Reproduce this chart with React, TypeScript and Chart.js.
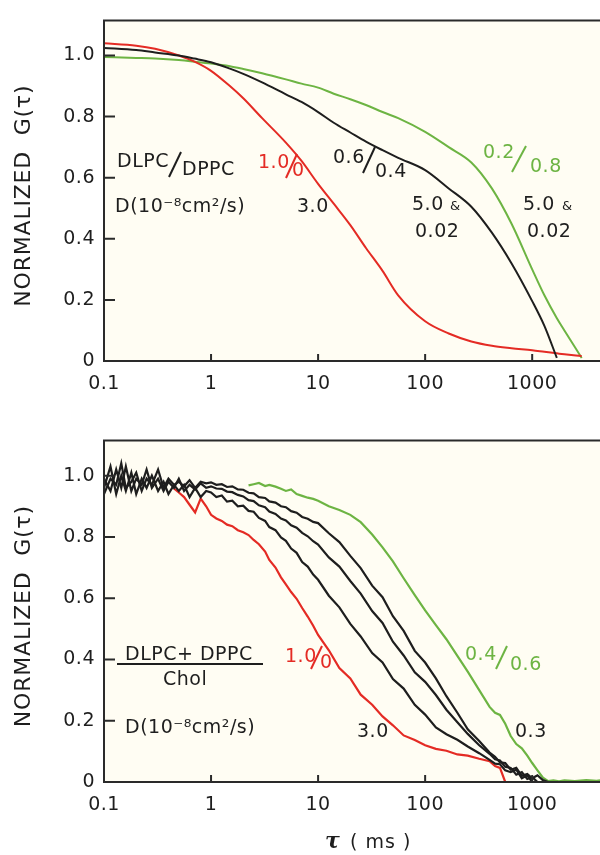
import React, { useEffect, useRef } from 'react';
import { Chart, registerables } from 'chart.js';
Chart.register(...registerables);

const INK = '#1e1e1e';
const RED = '#e42b24';
const GREEN = '#6db443';
const FONT = '"DejaVu Sans"';

const X_TICKS = [0.1, 1, 10, 100, 1000];
const Y_TICKS = [0, 0.2, 0.4, 0.6, 0.8, 1.0];
const X_MIN = 0.1;
const X_MAX = 4300;
const Y_MAX = 1.115;

// ---- top panel: DLPC/DPPC fits ----
const tauTop = [0.1, 0.2, 0.3, 0.5, 0.7, 1, 1.5, 2, 3, 5, 7, 10, 14, 20, 28, 40, 56, 100, 166, 270, 420, 640, 1000, 1300, 1700, 2000, 2900];
const topRed = [1.04, 1.032, 1.022, 1.0, 0.98, 0.95, 0.9, 0.86, 0.795, 0.715, 0.655, 0.58, 0.515, 0.445, 0.37, 0.295, 0.215, 0.13, 0.09, 0.064, 0.05, 0.042, 0.035, 0.03, 0.025, 0.022, 0.016];
const topBlack = [1.025, 1.018, 1.01, 1.0, 0.99, 0.978, 0.957, 0.94, 0.912, 0.873, 0.848, 0.815, 0.78, 0.748, 0.718, 0.69, 0.665, 0.625, 0.565, 0.505, 0.42, 0.32, 0.196, 0.115, 0.01, null, null];
const topGreen = [0.995, 0.992, 0.99, 0.985, 0.98, 0.974, 0.965, 0.956, 0.942, 0.922, 0.908, 0.895, 0.875, 0.857, 0.838, 0.815, 0.795, 0.75, 0.7, 0.65, 0.565, 0.45, 0.3, 0.215, 0.14, 0.1, 0.01];

// ---- bottom panel: (DLPC+DPPC)/Chol data ----
const tauBot = [
  0.1, 0.115, 0.13, 0.145, 0.16, 0.18, 0.2, 0.225, 0.25, 0.28, 0.32, 0.36, 0.4, 0.45, 0.5, 0.56, 0.63, 0.71, 0.8, 0.9,
  1, 1.12, 1.26, 1.41, 1.58, 1.78, 2, 2.24, 2.5, 2.8, 3.2, 3.5, 4, 4.5, 5, 5.6, 6.3, 7.1, 8, 9,
  10, 12.6, 15.8, 20, 25, 32, 40, 50, 63, 80,
  100, 126, 158, 200, 250, 320, 400, 450, 500, 560, 630, 710, 800, 900,
  1000, 1120, 1260, 1410, 1580, 1780, 2000, 2500, 3200, 4000, 4300,
];
const botBlack1 = [
  0.96, 1.03, 0.94, 1.0, 0.95, 1.01, 0.94, 0.99, 0.96, 1.0, 0.95, 0.98, 0.94, 0.97, 0.95, 0.97, 0.93, 0.96, 0.93, 0.95,
  0.945, 0.93, 0.935, 0.915, 0.918, 0.9, 0.902, 0.885, 0.882, 0.862, 0.852, 0.832, 0.822, 0.798, 0.787, 0.762, 0.748, 0.718, 0.703, 0.677,
  0.66, 0.608, 0.57, 0.516, 0.475, 0.421, 0.39, 0.336, 0.305, 0.252,
  0.22, 0.178, 0.156, 0.138, 0.116, 0.094, 0.072, 0.06, 0.058, 0.038, 0.032, 0.04, 0.012, 0.022,
  0.0, null, null, null, null, null, null, null, null, null, null,
];
const botBlack2 = [
  0.99, 0.95, 1.02, 0.96, 1.03, 0.95, 0.99, 0.97, 1.02, 0.96, 0.99, 0.95, 0.98, 0.96, 0.99, 0.95, 0.97, 0.955, 0.975, 0.96,
  0.965, 0.958, 0.957, 0.948, 0.946, 0.937, 0.932, 0.92, 0.917, 0.903, 0.897, 0.883, 0.875, 0.86, 0.854, 0.838, 0.83, 0.813, 0.802, 0.786,
  0.775, 0.733, 0.703, 0.656, 0.615, 0.558, 0.519, 0.458, 0.413, 0.358,
  0.327, 0.284, 0.236, 0.195, 0.157, 0.12, 0.092, 0.074, 0.07, 0.05, 0.046, 0.024, 0.032, 0.01,
  0.016, 0.0, null, null, null, null, null, null, null, null, null,
];
const botBlack3 = [
  0.94, 0.99, 0.97, 1.04, 0.96, 0.98, 1.01, 0.95, 0.99, 0.97, 1.02, 0.96, 0.99, 0.97, 0.98, 0.965, 0.985, 0.96, 0.98, 0.975,
  0.978, 0.97, 0.972, 0.963, 0.965, 0.955, 0.954, 0.944, 0.942, 0.93, 0.927, 0.916, 0.912, 0.9, 0.897, 0.884, 0.879, 0.865, 0.859, 0.849,
  0.845, 0.812, 0.783, 0.738, 0.698, 0.641, 0.603, 0.541, 0.493, 0.428,
  0.39, 0.338, 0.28, 0.226, 0.172, 0.134, 0.096, 0.082, 0.064, 0.062, 0.04, 0.046, 0.02, 0.026,
  0.012, 0.022, 0.006, 0.0, null, null, null, null, null, null, null,
];
const botRed = [
  null, null, null, null, null, null, null, null, null, null, null, null, null, 0.958, 0.945, 0.93, 0.905, 0.88, 0.925, 0.9,
  0.872, 0.86, 0.852, 0.84, 0.835, 0.822, 0.815, 0.806, 0.79, 0.776, 0.752, 0.725, 0.7, 0.668, 0.645, 0.62, 0.598, 0.568, 0.54, 0.51,
  0.48, 0.43, 0.372, 0.338, 0.285, 0.252, 0.214, 0.185, 0.152, 0.137,
  0.12, 0.108, 0.102, 0.09, 0.086, 0.076, 0.068, 0.052, 0.046, 0.0, null, null, null, null,
  null, null, null, null, null, null, null, null, null, null, null,
];
const botGreen = [
  null, null, null, null, null, null, null, null, null, null, null, null, null, null, null, null, null, null, null, null,
  null, null, null, null, null, null, null, 0.968, 0.972, 0.976, 0.966, 0.97, 0.964, 0.957, 0.95, 0.955, 0.94, 0.934, 0.928, 0.924,
  0.918, 0.9, 0.888, 0.872, 0.848, 0.808, 0.766, 0.72, 0.665, 0.61,
  0.56, 0.512, 0.466, 0.412, 0.36, 0.3, 0.245, 0.226, 0.219, 0.19, 0.15, 0.124, 0.11, 0.086,
  0.062, 0.038, 0.014, 0.003, 0.005, 0.002, 0.005, 0.003, 0.006, 0.004, 0.005,
];

function pts(tau: number[], vals: (number | null)[]) {
  const out: { x: number; y: number }[] = [];
  vals.forEach((v, i) => {
    if (v !== null && v !== undefined) out.push({ x: tau[i], y: v });
  });
  return out;
}

function txt(ctx: CanvasRenderingContext2D, s: string, x: number, y: number, color = INK, size = 19, spacing = 0.5, style = '', family = FONT) {
  ctx.save();
  ctx.font = `${style} ${size}px ${family}`;
  ctx.fillStyle = color;
  ctx.textAlign = 'left';
  ctx.textBaseline = 'alphabetic';
  (ctx as any).letterSpacing = spacing + 'px';
  ctx.fillText(s, x, y);
  ctx.restore();
}

function stroke(ctx: CanvasRenderingContext2D, x1: number, y1: number, x2: number, y2: number, color = INK, w = 2) {
  ctx.save();
  ctx.strokeStyle = color;
  ctx.lineWidth = w;
  ctx.beginPath();
  ctx.moveTo(x1, y1);
  ctx.lineTo(x2, y2);
  ctx.stroke();
  ctx.restore();
}

function drawTopTexts(ctx: CanvasRenderingContext2D) {
  txt(ctx, 'DLPC', 117, 167);
  stroke(ctx, 169, 177, 181, 152);
  txt(ctx, 'DPPC', 182, 175);
  txt(ctx, 'D(10⁻⁸cm²/s)', 115, 212);
  txt(ctx, '1.0', 258, 168, RED);
  stroke(ctx, 286, 178, 297, 154, RED);
  txt(ctx, '0', 292, 176, RED);
  txt(ctx, '3.0', 297, 212);
  txt(ctx, '0.6', 333, 163);
  stroke(ctx, 363, 173, 375, 147);
  txt(ctx, '0.4', 375, 177);
  txt(ctx, '5.0', 412, 210);
  txt(ctx, '&', 450, 210, INK, 13);
  txt(ctx, '0.02', 415, 237);
  txt(ctx, '0.2', 483, 158, GREEN);
  stroke(ctx, 512, 172, 526, 146, GREEN);
  txt(ctx, '0.8', 530, 172, GREEN);
  txt(ctx, '5.0', 523, 210);
  txt(ctx, '&', 562, 210, INK, 13);
  txt(ctx, '0.02', 527, 237);
}

function drawBottomTexts(ctx: CanvasRenderingContext2D) {
  txt(ctx, 'DLPC+ DPPC', 125, 240);
  stroke(ctx, 117, 244, 263, 244);
  txt(ctx, 'Chol', 163, 265);
  txt(ctx, 'D(10⁻⁸cm²/s)', 125, 313);
  txt(ctx, '1.0', 285, 242, RED);
  stroke(ctx, 311, 249, 322, 226, RED);
  txt(ctx, '0', 320, 248, RED);
  txt(ctx, '3.0', 357, 317);
  txt(ctx, '0.4', 465, 240, GREEN);
  stroke(ctx, 496, 249, 507, 226, GREEN);
  txt(ctx, '0.6', 510, 250, GREEN);
  txt(ctx, '0.3', 515, 317);
  txt(ctx, 'τ', 325, 428, INK, 22, 0, 'italic bold', '"DejaVu Serif"');
  txt(ctx, '( ms )', 350, 428, INK, 19, 1);
}

function panelPlugin(drawTexts: (ctx: CanvasRenderingContext2D) => void) {
  return {
    id: 'panel',
    beforeDraw(chart: any) {
      const { ctx, chartArea: a } = chart;
      ctx.save();
      ctx.fillStyle = '#fffdf3';
      ctx.fillRect(a.left, a.top, a.right - a.left, a.bottom - a.top);
      ctx.restore();
      ctx.letterSpacing = '0.5px';
    },
    afterDraw(chart: any) {
      const { ctx, chartArea: a, scales } = chart;
      const xs = scales.x;
      const ys = scales.y;
      ctx.save();
      ctx.strokeStyle = '#2a2a2a';
      ctx.lineWidth = 2;
      ctx.beginPath();
      ctx.moveTo(a.right, a.top);
      ctx.lineTo(a.left, a.top);
      ctx.lineTo(a.left, a.bottom);
      ctx.lineTo(a.right, a.bottom);
      for (const v of Y_TICKS) {
        const y = ys.getPixelForValue(v);
        ctx.moveTo(a.left, y);
        ctx.lineTo(a.left + 11, y);
      }
      for (const v of X_TICKS) {
        const x = xs.getPixelForValue(v);
        ctx.moveTo(x, a.bottom);
        ctx.lineTo(x, a.bottom - 7);
      }
      ctx.stroke();
      ctx.restore();

      // y-axis title
      ctx.save();
      ctx.translate(24, (a.top + a.bottom) / 2 + 5);
      ctx.rotate(-Math.PI / 2);
      ctx.font = `22px ${FONT}`;
      ctx.fillStyle = INK;
      ctx.textAlign = 'center';
      ctx.textBaseline = 'middle';
      ctx.letterSpacing = '0.8px';
      ctx.fillText('NORMALIZED  G(τ)', 0, 0);
      ctx.restore();

      drawTexts(ctx);
    },
  };
}

function makeConfig(datasets: any[], h: number, drawTexts: (ctx: CanvasRenderingContext2D) => void): any {
  const font = { family: FONT, size: 19 };
  return {
    type: 'line',
    data: { datasets },
    options: {
      animation: false,
      responsive: false,
      maintainAspectRatio: false,
      layout: { padding: { top: 14, left: 0, right: 0, bottom: 0 } },
      plugins: { legend: { display: false }, tooltip: { enabled: false } },
      elements: { point: { radius: 0 } },
      scales: {
        x: {
          type: 'logarithmic',
          min: X_MIN,
          max: X_MAX,
          afterBuildTicks: (s: any) => {
            s.ticks = X_TICKS.map((value) => ({ value }));
          },
          afterFit: (s: any) => {
            s.height = h - (h === 420 ? 361 : 362);
          },
          grid: { display: false, drawTicks: false },
          border: { display: false },
          ticks: {
            callback: (v: any) => String(v),
            font,
            color: INK,
            padding: 12,
            maxRotation: 0,
            autoSkip: false,
          },
        },
        y: {
          min: 0,
          max: Y_MAX,
          afterBuildTicks: (s: any) => {
            s.ticks = Y_TICKS.map((value) => ({ value }));
          },
          afterFit: (s: any) => {
            s.width = 104;
          },
          grid: { display: false, drawTicks: false },
          border: { display: false },
          ticks: {
            callback: (v: any) => (v === 0 ? '0' : Number(v).toFixed(1)),
            font,
            color: INK,
            padding: 9,
          },
        },
      },
    },
    plugins: [panelPlugin(drawTexts)],
  };
}

function topConfig() {
  const line = { borderWidth: 2, cubicInterpolationMode: 'monotone', pointRadius: 0, fill: false };
  return makeConfig(
    [
      { ...line, data: pts(tauTop, topBlack), borderColor: INK },
      { ...line, data: pts(tauTop, topRed), borderColor: RED },
      { ...line, data: pts(tauTop, topGreen), borderColor: GREEN },
    ],
    420,
    drawTopTexts,
  );
}

function bottomConfig() {
  const line = { borderWidth: 2.2, tension: 0, pointRadius: 0, fill: false };
  return makeConfig(
    [
      { ...line, data: pts(tauBot, botBlack1), borderColor: INK },
      { ...line, data: pts(tauBot, botBlack2), borderColor: INK },
      { ...line, data: pts(tauBot, botBlack3), borderColor: INK },
      { ...line, data: pts(tauBot, botRed), borderColor: RED },
      { ...line, data: pts(tauBot, botGreen), borderColor: GREEN },
    ],
    435,
    drawBottomTexts,
  );
}

function Panel({ h, build }: { h: number; build: () => any }) {
  const ref = useRef<HTMLCanvasElement>(null);
  useEffect(() => {
    const chart = new Chart(ref.current as HTMLCanvasElement, build());
    return () => chart.destroy();
  }, []);
  return <canvas ref={ref} width={600} height={h} style={{ display: 'block', width: 600, height: h }} />;
}

export default function App() {
  return (
    <div style={{ position: 'absolute', left: 0, top: 0, width: 600, height: 855, background: '#ffffff' }}>
      <Panel h={420} build={topConfig} />
      <Panel h={435} build={bottomConfig} />
    </div>
  );
}
